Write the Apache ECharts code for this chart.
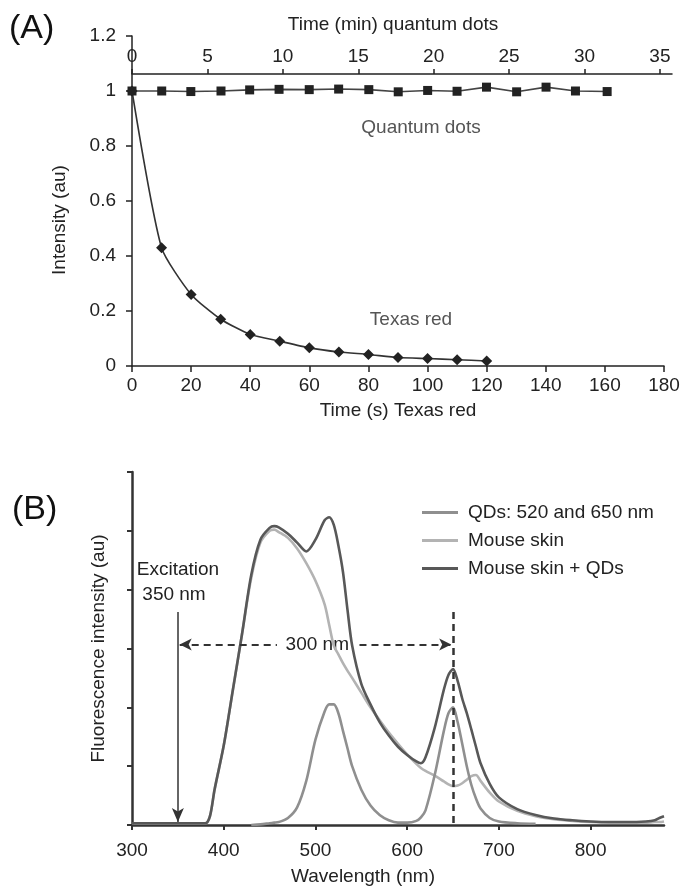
<!DOCTYPE html>
<html><head><meta charset="utf-8">
<script src="https://cdn.jsdelivr.net/npm/echarts@6/dist/echarts.min.js"></script>
<style>html,body{margin:0;padding:0;background:#fff}#c{width:686px;height:888px}</style>
</head><body><div id="c"></div>
<script>
// ---------- Panel A data ----------
const trTime = [0, 10, 20, 30, 40, 50, 60, 70, 80, 90, 100, 110, 120];           // seconds
const trVal  = [1.0, 0.43, 0.26, 0.17, 0.115, 0.09, 0.066, 0.051, 0.042, 0.031, 0.027, 0.023, 0.018];
const qdTime = [0, 1.97, 3.9, 5.9, 7.8, 9.75, 11.75, 13.7, 15.7, 17.65, 19.6, 21.55, 23.5, 25.5, 27.45, 29.4, 31.5]; // minutes
const qdVal  = [1.0, 1.0, 0.998, 1.0, 1.004, 1.006, 1.005, 1.007, 1.005, 0.997, 1.002, 0.999, 1.014, 0.997, 1.014, 1.0, 0.998];
const trTicks = [0, 20, 40, 60, 80, 100, 120, 140, 160, 180];
const qdTicks = [0, 5, 10, 15, 20, 25, 30, 35];
const intTicks = [0, 0.2, 0.4, 0.6, 0.8, 1, 1.2];

// ---------- Panel B data ----------
const wl = [300, 340, 380, 385, 390, 400, 410, 420, 430, 440,
            450, 455, 460, 470, 480, 490, 500, 510, 515, 520,
            525, 530, 535, 540, 550, 560, 570, 580, 590, 600,
            610, 615, 620, 630, 640, 645, 650, 655, 660, 665,
            670, 675, 680, 690, 700, 720, 740, 760, 780, 800,
            820, 840, 860, 870, 875, 880];
const skinQDs = [0.03, 0.03, 0.03, 0.15, 0.6, 1.35, 2.3, 3.25, 4.25, 4.85,
                 5.05, 5.08, 5.06, 4.95, 4.8, 4.65, 4.85, 5.18, 5.23, 5.1,
                 4.75, 4.3, 3.65, 3.05, 2.4, 2.05, 1.75, 1.52, 1.33, 1.19,
                 1.08, 1.05, 1.15, 1.65, 2.3, 2.55, 2.65, 2.45, 2.15, 1.9,
                 1.62, 1.33, 1.05, 0.7, 0.47, 0.27, 0.17, 0.11, 0.08, 0.06,
                 0.05, 0.05, 0.06, 0.08, 0.12, 0.15];
const skin = [0.03, 0.03, 0.03, 0.15, 0.6, 1.35, 2.3, 3.25, 4.2, 4.8,
              5.0, 5.02, 4.98, 4.88, 4.7, 4.45, 4.15, 3.75, 3.4, 3.05,
              2.9, 2.75, 2.62, 2.5, 2.25, 2.0, 1.78, 1.57, 1.38, 1.2,
              1.04, 0.97, 0.92, 0.84, 0.74, 0.69, 0.66, 0.67, 0.71, 0.77,
              0.83, 0.85, 0.75, 0.55, 0.4, 0.24, 0.15, 0.1, 0.07, 0.05,
              0.04, 0.04, 0.04, 0.05, 0.05, 0.06];
const qds = [null, null, null, null, null, null, null, null, 0.0, 0.01,
             0.03, 0.04, 0.05, 0.12, 0.3, 0.75, 1.45, 1.93, 2.05, 2.05,
             1.9, 1.6, 1.3, 1.0, 0.6, 0.33, 0.17, 0.08, 0.04, 0.04,
             0.07, 0.13, 0.25, 0.85, 1.6, 1.9, 2.0, 1.75, 1.38, 1.0,
             0.68, 0.45, 0.28, 0.12, 0.06, 0.03, 0.02, null, null, null,
             null, null, null, null, null, null];
const wlTicks = [300, 400, 500, 600, 700, 800];
const fluTicks = [0, 1, 2, 3, 4, 5, 6];
const seriesNames = ['QDs: 520 and 650 nm', 'Mouse skin', 'Mouse skin + QDs'];

const FONT = '"Liberation Sans", Arial, Helvetica, sans-serif';
const FS = 19;
const pairs = (xs, ys) => xs.map((x, i) => [x, ys[i]]).filter(p => p[1] !== null);

const chart = echarts.init(document.getElementById('c'), null, {renderer: 'canvas'});

const axisA = {lineStyle: {color: '#222', width: 1.5}};
const labelStyle = {fontSize: FS, color: '#222', fontFamily: FONT};
const dashStyle = {type: [7, 5], color: '#333', width: 2};

const baseGraphic = [
  {id: 'pa', type: 'text', left: 9, top: 12, style: {text: '(A)', fontSize: 34, fill: '#111', fontFamily: FONT}},
  {id: 'pb', type: 'text', left: 12, top: 493, style: {text: '(B)', fontSize: 34, fill: '#111', fontFamily: FONT}},
  {id: 'tq', type: 'text', x: 421, y: 128, style: {text: 'Quantum dots', fontSize: FS, fill: '#555', fontFamily: FONT, align: 'center', verticalAlign: 'middle'}},
  {id: 'tt', type: 'text', x: 411, y: 320, style: {text: 'Texas red', fontSize: FS, fill: '#555', fontFamily: FONT, align: 'center', verticalAlign: 'middle'}},
  {id: 'te', type: 'text', x: 178, y: 570, style: {text: 'Excitation', fontSize: FS, fill: '#222', fontFamily: FONT, align: 'center', verticalAlign: 'middle'}},
  {id: 'tn', type: 'text', x: 174, y: 595, style: {text: '350 nm', fontSize: FS, fill: '#222', fontFamily: FONT, align: 'center', verticalAlign: 'middle'}}
];

chart.setOption({
  animation: false,
  backgroundColor: '#fff',
  grid: [
    {left: 132, top: 36, width: 532, height: 330, containLabel: false, outerBoundsMode: 'none'},
    {left: 132, top: 36, width: 540, height: 330, containLabel: false, outerBoundsMode: 'none'},
    {left: 132, top: 472, width: 532, height: 353, containLabel: false, outerBoundsMode: 'none'}
  ],
  xAxis: [
    {gridIndex: 0, type: 'value', min: 0, max: 180, position: 'bottom',
     axisLine: {onZero: false, ...axisA},
     axisTick: {length: 6, lineStyle: {color: '#222', width: 1.5}, customValues: trTicks},
     axisLabel: {...labelStyle, margin: 10, customValues: trTicks},
     splitLine: {show: false},
     name: 'Time (s) Texas red', nameLocation: 'middle', nameGap: 35,
     nameTextStyle: {...labelStyle}},
    {gridIndex: 1, type: 'value', min: 0, max: 35.8, position: 'top', offset: -38,
     axisLine: {onZero: false, ...axisA},
     axisTick: {length: 5, lineStyle: {color: '#222', width: 1.5}, customValues: qdTicks},
     axisLabel: {...labelStyle, margin: 8, customValues: qdTicks},
     splitLine: {show: false},
     name: 'Time (min) quantum dots', nameLocation: 'middle', nameGap: 40,
     nameTextStyle: {...labelStyle, padding: [0, 18, 0, 0]}},
    {gridIndex: 2, type: 'value', min: 300, max: 880, position: 'bottom',
     axisLine: {onZero: false, lineStyle: {color: '#333', width: 2.5}},
     axisTick: {length: 5, lineStyle: {color: '#333', width: 2}, customValues: wlTicks},
     axisLabel: {...labelStyle, margin: 16, customValues: wlTicks},
     splitLine: {show: false},
     name: 'Wavelength (nm)', nameLocation: 'middle', nameGap: 42,
     nameTextStyle: {...labelStyle, padding: [0, 70, 0, 0]}}
  ],
  yAxis: [
    {gridIndex: 0, type: 'value', min: 0, max: 1.2,
     axisLine: {show: true, onZero: false, ...axisA},
     axisTick: {show: true, length: 6, lineStyle: {color: '#222', width: 1.5}, customValues: intTicks},
     axisLabel: {...labelStyle, margin: 16, customValues: intTicks},
     splitLine: {show: false},
     name: 'Intensity (au)', nameLocation: 'middle', nameGap: 63,
     nameTextStyle: {...labelStyle, padding: [0, 38, 0, 0]}},
    {gridIndex: 1, type: 'value', min: 0, max: 1.2, show: false},
    {gridIndex: 2, type: 'value', min: 0, max: 6,
     axisLine: {show: true, onZero: false, lineStyle: {color: '#333', width: 2.5}},
     axisTick: {show: true, length: 5, lineStyle: {color: '#333', width: 2}, customValues: fluTicks},
     axisLabel: {show: false},
     splitLine: {show: false},
     name: 'Fluorescence intensity (au)', nameLocation: 'middle', nameGap: 24,
     nameTextStyle: {...labelStyle}}
  ],
  legend: {
    data: seriesNames, orient: 'vertical', left: 417, top: 498,
    itemWidth: 36, itemHeight: 3, itemGap: 9, icon: 'rect',
    textStyle: {...labelStyle, padding: [0, 0, 0, 5]},
    selectedMode: false
  },
  series: [
    {name: 'Texas red', type: 'line', xAxisIndex: 0, yAxisIndex: 0,
     data: pairs(trTime, trVal), smooth: 0.2,
     symbol: 'diamond', symbolSize: 11,
     lineStyle: {color: '#333', width: 1.6}, itemStyle: {color: '#222'}},
    {name: 'Quantum dots', type: 'line', xAxisIndex: 1, yAxisIndex: 1,
     data: pairs(qdTime, qdVal),
     symbol: 'rect', symbolSize: 9,
     lineStyle: {color: '#444', width: 1.6}, itemStyle: {color: '#222'}},
    {name: seriesNames[1], type: 'line', xAxisIndex: 2, yAxisIndex: 2,
     data: pairs(wl, skin), smooth: 0.3, symbol: 'none',
     lineStyle: {color: '#b3b3b3', width: 2.6}, itemStyle: {color: '#b3b3b3'}},
    {name: seriesNames[0], type: 'line', xAxisIndex: 2, yAxisIndex: 2,
     data: pairs(wl, qds), smooth: 0.3, symbol: 'none',
     lineStyle: {color: '#8f8f8f', width: 2.6}, itemStyle: {color: '#8f8f8f'}},
    {name: seriesNames[2], type: 'line', xAxisIndex: 2, yAxisIndex: 2,
     data: pairs(wl, skinQDs), smooth: 0.3, symbol: 'none',
     lineStyle: {color: '#585858', width: 2.6}, itemStyle: {color: '#585858'},
     markLine: {
       silent: true, animation: false,
       label: {show: false},
       data: [
         [{coord: [350, 3.62], symbol: 'none', lineStyle: {type: 'solid', color: '#333', width: 1.5}},
          {coord: [350, 0.05], symbol: 'arrow', symbolSize: [9, 14]}],
         [{coord: [650, 3.62], symbol: 'none', lineStyle: {type: [7, 5], color: '#333', width: 2.5}},
          {coord: [650, 0], symbol: 'none'}],
         [{coord: [352, 3.07], symbol: 'arrow', symbolSize: [9, 12], lineStyle: dashStyle},
          {coord: [458, 3.07], symbol: 'none'}],
         [{coord: [548, 3.07], symbol: 'none', lineStyle: dashStyle},
          {coord: [648, 3.07], symbol: 'arrow', symbolSize: [9, 12]}]
       ]
     }}
  ],
  graphic: baseGraphic
});

// "300 nm" label anchored at the middle of the double arrow, in data coordinates
const mid = chart.convertToPixel({xAxisIndex: 2, yAxisIndex: 2}, [502, 3.07]);
chart.setOption({
  graphic: baseGraphic.concat([
    {id: 't300', type: 'text', x: mid[0], y: mid[1],
     style: {text: '300 nm', fontSize: FS, fill: '#222', fontFamily: FONT, align: 'center', verticalAlign: 'middle'}}
  ])
});
</script></body></html>
